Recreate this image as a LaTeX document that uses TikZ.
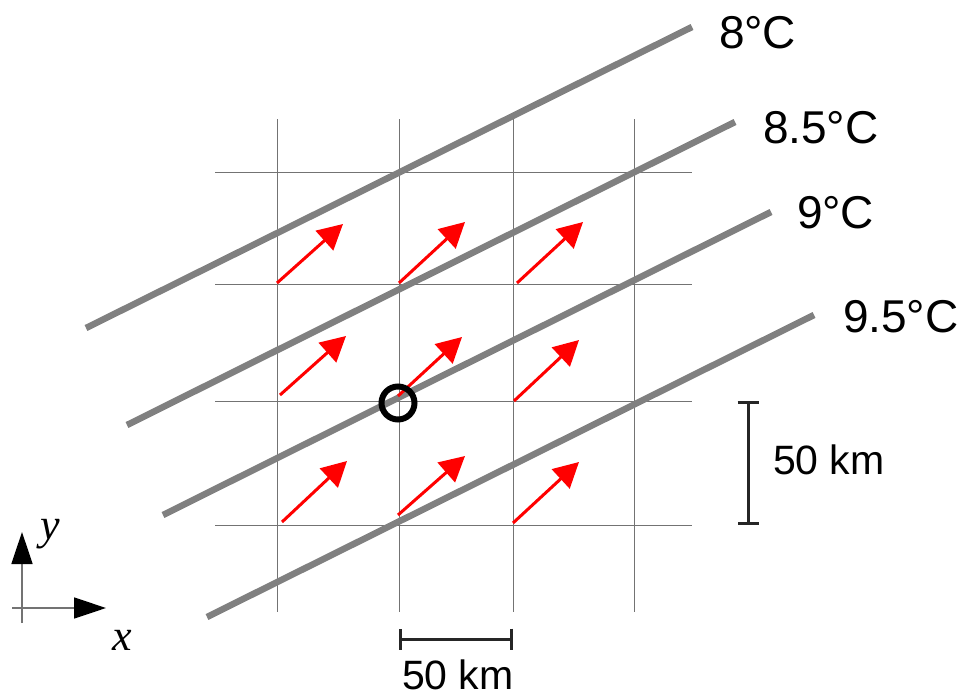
\documentclass[tikz,border=0pt]{standalone}
\usepackage{fontspec}
\setmainfont{Liberation Sans}
\newfontfamily\axisfont{Liberation Serif}
\usetikzlibrary{arrows.meta}
\tikzstyle{base}=[x=1pt, y=-1pt, inner sep=0pt, outer sep=0pt]
\tikzstyle{gridline}=[draw=black!55, line width=1pt]
\tikzstyle{isotherm}=[draw=black!50, line width=6.5pt]
\tikzstyle{flow}=[draw=red, line width=3pt, -{Triangle[length=25pt,width=26pt]}]
\tikzstyle{scalebar}=[draw=black!85, line width=3pt, {Bar[width=21pt]}-{Bar[width=21pt]}]
\tikzstyle{axis}=[draw=black!55, line width=1.5pt, -{Triangle[length=32pt,width=21pt,black]}]
\tikzstyle{templabel}=[anchor=base west, font=\fontsize{46}{50}\selectfont]
\tikzstyle{kmlabel}=[anchor=base west, font=\fontsize{41}{46}\selectfont]

\begin{document}
\begin{tikzpicture}[base]
    \path [use as bounding box] (0,0) rectangle (964,696);
    % grid
    \foreach \gx in {277,399,513,634}
        \draw [gridline] (\gx,119) -- (\gx,612);
    \foreach \gy in {172,284,401,525}
        \draw [gridline] (215,\gy) -- (692,\gy);
    % isotherms
    \coordinate (iA0) at (86,328);  \coordinate (iA1) at (692,27);
    \coordinate (iB0) at (127,425); \coordinate (iB1) at (735,122);
    \coordinate (iC0) at (163,515); \coordinate (iC1) at (771,212);
    \coordinate (iD0) at (207,617); \coordinate (iD1) at (814,315);
    \draw [isotherm] (iA0) -- (iA1);
    \draw [isotherm] (iB0) -- (iB1);
    \draw [isotherm] (iC0) -- (iC1);
    \draw [isotherm] (iD0) -- (iD1);
    \node [templabel] (tA) at (719,48) {8°C};
    \node [templabel] (tB) at (763,143) {8.5°C};
    \node [templabel] (tC) at (797,228) {9°C};
    \node [templabel] (tD) at (843,332) {9.5°C};
    % wind arrows
    \coordinate (w11) at (277,283); \coordinate (h11) at (343,224);
    \coordinate (w12) at (399,283); \coordinate (h12) at (465,222);
    \coordinate (w13) at (517,283); \coordinate (h13) at (583,222);
    \coordinate (w21) at (280,395); \coordinate (h21) at (346,336);
    \coordinate (w22) at (398,396); \coordinate (h22) at (462,337);
    \coordinate (w23) at (514,401); \coordinate (h23) at (579,340);
    \coordinate (w31) at (282,522); \coordinate (h31) at (347,461);
    \coordinate (w32) at (398,515); \coordinate (h32) at (465,456);
    \coordinate (w33) at (513,523); \coordinate (h33) at (579,462);
    \foreach \r in {1,2,3}
        \foreach \c in {1,2,3}
            \draw [flow] (w\r\c) -- (h\r\c);
    % observation point
    \node [draw, circle, line width=6pt, minimum size=33pt] (obs) at (398,403) {};
    % scale bars
    \coordinate (sv0) at (748,401); \coordinate (sv1) at (748,525);
    \draw [scalebar] (sv0) -- (sv1);
    \node [kmlabel] (kmV) at (773,474) {50 km};
    \coordinate (sh0) at (399,639); \coordinate (sh1) at (513,639);
    \draw [scalebar] (sh0) -- (sh1);
    \node [kmlabel] (kmH) at (402,689) {50 km};
    % axes
    \coordinate (ax0) at (22,608);
    \coordinate (axX) at (106,608);
    \coordinate (axY) at (22,532);
    \draw [axis] (12,608) -- (axX);
    \draw [axis] (22,623) -- (axY);
    \node [font=\axisfont\itshape\fontsize{44}{48}\selectfont] (lblY) at (50,534) {y};
    \node [font=\axisfont\itshape\fontsize{44}{48}\selectfont] (lblX) at (122,640) {x};
\end{tikzpicture}
\end{document}
